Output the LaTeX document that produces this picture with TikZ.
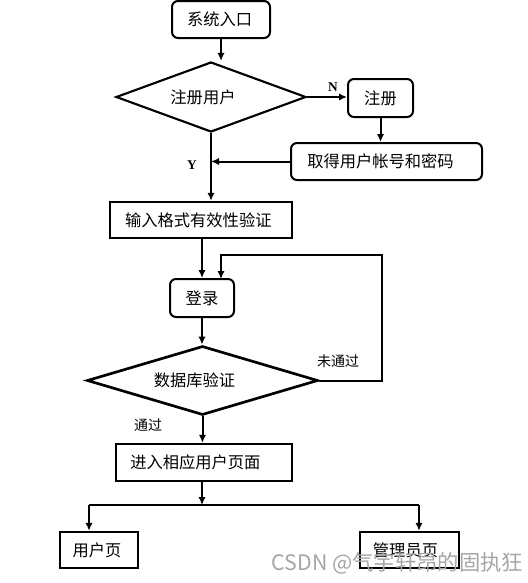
\documentclass[tikz,border=0pt]{standalone}
\usepackage{fontspec}
\newfontfamily\cjk{Noto Sans CJK SC}
\newfontfamily\lserif{Liberation Serif}
\usetikzlibrary{arrows.meta,shapes.geometric}
\begin{document}
\begin{tikzpicture}[x=0.75pt,y=-0.75pt,
  every node/.style={font=\cjk\fontsize{12.2}{14}\selectfont, inner sep=0pt},
  rbox/.style={draw, line width=1.5pt, rounded corners=4.5pt, align=center},
  sbox/.style={draw, line width=1.8pt, align=center},
  dec/.style={draw, diamond, line width=1.6pt, shape aspect=2.7},
  conn/.style={line width=1.5pt},
  arr/.style={conn, -{Latex[length=6pt,width=5.5pt]}},
  lbl/.style={font=\cjk\fontsize{10.5}{12}\selectfont},
  yn/.style={font=\lserif\fontsize{10}{12}\selectfont\bfseries}
]
\useasboundingbox (0,0) rectangle (528,583);
\fill[white] (0,0) rectangle (528,583);

\node[rbox, minimum width=98*0.75pt, minimum height=37*0.75pt] (start) at (221,19.5) {系统入口\kern2pt};
\node[dec, minimum width=190*0.75pt, minimum height=70*0.75pt] (reg) at (211,97) {注册用户\kern12pt};
\node[rbox, minimum width=65*0.75pt, minimum height=38*0.75pt] (zc) at (380.5,98) {注册};
\node[rbox, minimum width=191*0.75pt, minimum height=37*0.75pt] (qd) at (386.5,161.5) {取得用户帐号和密码\kern9pt};
\node[sbox, minimum width=182*0.75pt, minimum height=36*0.75pt] (sr) at (201,220) {输入格式有效性验证\kern4pt};
\node[rbox, minimum width=64*0.75pt, minimum height=38*0.75pt] (dl) at (202,298) {登录};
\node[dec, line width=2pt, minimum width=231*0.75pt, minimum height=69*0.75pt] (db) at (202.5,380.5) {数据库验证\kern12pt};
\node[sbox, minimum width=176*0.75pt, minimum height=37*0.75pt] (jr) at (204,462.5) {进入相应用户页面\kern13pt};
\node[sbox, minimum width=78*0.75pt, minimum height=36*0.75pt] (yh) at (99,550) {用户页\kern3pt};
\node[sbox, minimum width=99*0.75pt, minimum height=36*0.75pt] (gl) at (409.5,550) {管理员页\kern6pt};

% labels
\node[yn] (nl) at (333,87) {N};
\node[yn] (yl) at (192,165) {Y};
\node[lbl] (wtg) at (338,361) {未通过};
\node[lbl] (tg) at (148,425) {通过};

% coordinates
\coordinate (c1) at (382,255);
\coordinate (dlin) at (221,279);
\coordinate (split) at (202,505);
\coordinate (lft) at (89,505);
\coordinate (rgt) at (419,505);

% connectors
\draw[arr] (start.south) -- (start.south |- reg.north);
\draw[arr] (reg.east) -- (zc.west |- reg.east);
\draw[arr] (zc.south) -- (zc.south |- qd.north);
\draw[arr] (qd.west) -- (reg.south |- qd.west);
\draw[arr] (reg.south) -- (reg.south |- sr.north);
\draw[arr] (sr.south -| dl.north) -- (dl.north);
\draw[arr] (db.east) -| (c1) -| (dlin);
\draw[arr] (dl.south) -- (dl.south |- db.north);
\draw[arr] (db.south) -- (db.south |- jr.north);
\draw[arr] (jr.south -| split) -- (split);
\draw[conn] (lft) -- (rgt);
\draw[arr] (lft) -- (lft |- yh.north);
\draw[arr] (rgt) -- (rgt |- gl.north);

% watermark
\node[font=\cjk\fontsize{16}{18}\selectfont, text=gray!70] (wm) at (397.5,563) {CSDN @气宇轩昂的固执狂};
\end{tikzpicture}
\end{document}
